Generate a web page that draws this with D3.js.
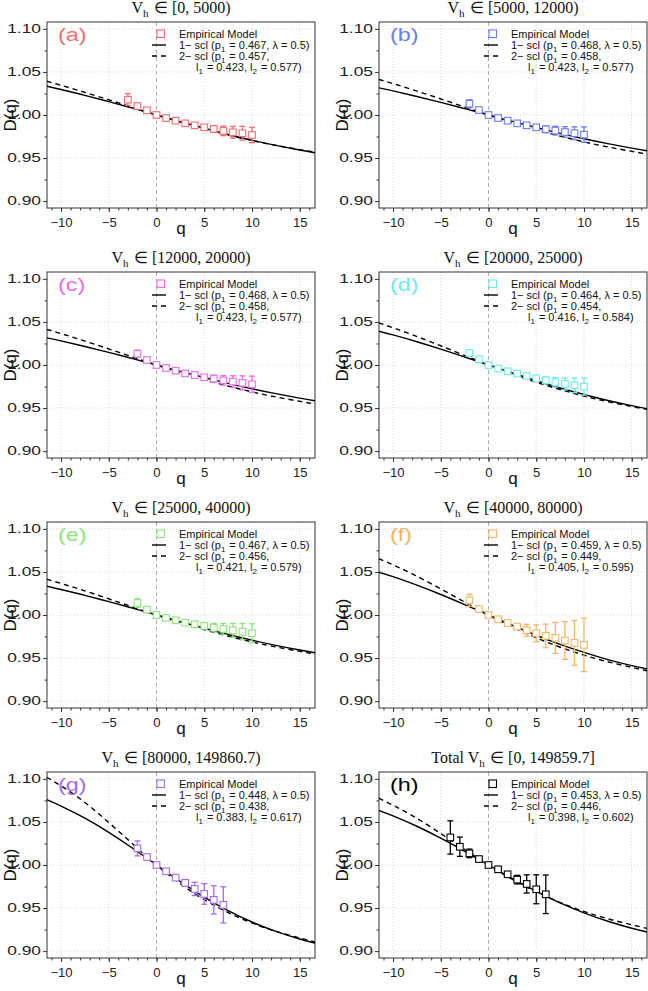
<!DOCTYPE html>
<html><head><meta charset="utf-8">
<script src="https://cdn.jsdelivr.net/npm/d3@7"></script>
<style>body{margin:0;background:#fff}</style>
</head><body><svg id="c" width="648" height="991"></svg>
<script>
// ---------- data ----------
const panelLabels = ["(a)","(b)","(c)","(d)","(e)","(f)","(g)","(h)"];
const panelRanges = ["[0, 5000)","[5000, 12000)","[12000, 20000)","[20000, 25000)","[25000, 40000)","[40000, 80000)","[80000, 149860.7)","[0, 149859.7]"];
const panelPrefix = ["","","","","","","","Total "];
const panelColors = ["#EE6F6F","#6B7CF0","#E86EE8","#6FEAEA","#8EE67A","#F2B666","#A56EEA","#000000"];
const oneP1 = ["0.467","0.468","0.468","0.464","0.467","0.459","0.448","0.453"];
const twoP1 = ["0.457","0.458","0.458","0.454","0.456","0.449","0.438","0.446"];
const twoL1 = ["0.423","0.423","0.423","0.416","0.421","0.405","0.383","0.398"];
const twoL2 = ["0.577","0.577","0.577","0.584","0.579","0.595","0.617","0.602"];

const xTicks = [-10,-5,0,5,10,15];
const yTicks = [0.90,0.95,1.00,1.05,1.10];

// empirical D(q) and error half-widths
const qA = [-3,-2,-1,0,1,2,3,4,5,6,7,8,9,10];
const dA = [1.0178,1.0104,1.0054,1.0000,0.9965,0.9934,0.9903,0.9880,0.9857,0.9838,0.9815,0.9799,0.9788,0.9768];
const eA = [0.0069,0.0020,0.0015,0.0005,0.0010,0.0010,0.0010,0.0015,0.0025,0.0040,0.0055,0.0068,0.0080,0.0090];
const qB = [-2,-1,0,1,2,3,4,5,6,7,8,9,10];
const dB = [1.0131,1.0058,1.0000,0.9965,0.9934,0.9903,0.9880,0.9857,0.9834,0.9819,0.9803,0.9788,0.9772];
const eB = [0.0046,0.0015,0.0005,0.0010,0.0010,0.0010,0.0015,0.0020,0.0039,0.0050,0.0062,0.0075,0.0090];
const qC = [-2,-1,0,1,2,3,4,5,6,7,8,9,10];
const dC = [1.0131,1.0058,1.0000,0.9965,0.9934,0.9903,0.9884,0.9857,0.9842,0.9822,0.9807,0.9792,0.9776];
const eC = [0.0040,0.0015,0.0005,0.0010,0.0010,0.0010,0.0015,0.0020,0.0040,0.0055,0.0068,0.0082,0.0095];
const qD = [-2,-1,0,1,2,3,4,5,6,7,8,9,10];
const dD = [1.0139,1.0066,1.0000,0.9958,0.9927,0.9900,0.9873,0.9846,0.9822,0.9799,0.9780,0.9764,0.9749];
const eD = [0.0040,0.0015,0.0005,0.0010,0.0010,0.0010,0.0015,0.0025,0.0040,0.0055,0.0070,0.0085,0.0100];
const qE = [-2,-1,0,1,2,3,4,5,6,7,8,9,10];
const dE = [1.0139,1.0062,1.0000,0.9965,0.9938,0.9911,0.9892,0.9873,0.9853,0.9838,0.9822,0.9807,0.9788];
const eE = [0.0050,0.0015,0.0005,0.0010,0.0010,0.0010,0.0015,0.0030,0.0050,0.0065,0.0080,0.0095,0.0110];
const qF = [-2,-1,0,1,2,3,4,5,6,7,8,9,10];
const dF = [1.0170,1.0069,1.0000,0.9950,0.9907,0.9865,0.9822,0.9788,0.9757,0.9734,0.9703,0.9676,0.9653];
const eF = [0.0070,0.0015,0.0005,0.0010,0.0020,0.0030,0.0070,0.0097,0.0137,0.0180,0.0220,0.0260,0.0310];
const qG = [-2,-1,0,1,2,3,4,5,6,7];
const dG = [1.0193,1.0093,1.0000,0.9927,0.9853,0.9792,0.9722,0.9664,0.9595,0.9537];
const eG = [0.0087,0.0015,0.0005,0.0010,0.0020,0.0040,0.0077,0.0120,0.0164,0.0210];
const qH = [-4,-3,-2,-1,0,1,2,3,4,5,6];
const dH = [1.0320,1.0212,1.0135,1.0069,1.0000,0.9950,0.9892,0.9830,0.9780,0.9718,0.9660];
const eH = [0.0193,0.0112,0.0050,0.0015,0.0005,0.0010,0.0015,0.0050,0.0106,0.0168,0.0224];

// model curves, sampled values read for each panel
const qOne = [-11.5,-10,-7.5,-5,-2.5,0,2.5,5,7.5,10,12.5,15,16.6];
const oneA = [1.0334,1.0296,1.0228,1.0155,1.0079,1.0000,0.9922,0.9846,0.9774,0.9708,0.9647,0.9593,0.9562];
const oneB = [1.0316,1.0280,1.0215,1.0146,1.0074,1.0000,0.9926,0.9855,0.9787,0.9724,0.9667,0.9615,0.9585];
const oneC = [1.0316,1.0280,1.0215,1.0146,1.0074,1.0000,0.9926,0.9855,0.9787,0.9724,0.9667,0.9615,0.9585];
const oneD = [1.0393,1.0349,1.0270,1.0184,1.0093,1.0000,0.9907,0.9817,0.9733,0.9657,0.9588,0.9528,0.9493];
const oneE = [1.0334,1.0296,1.0228,1.0155,1.0079,1.0000,0.9922,0.9846,0.9774,0.9708,0.9647,0.9593,0.9562];
const oneF = [1.0498,1.0445,1.0347,1.0238,1.0121,1.0000,0.9880,0.9765,0.9659,0.9565,0.9482,0.9412,0.9373];
const oneG = [1.0758,1.0684,1.0544,1.0379,1.0195,1.0000,0.9807,0.9628,0.9470,0.9338,0.9229,0.9141,0.9094];
const oneH = [1.0635,1.0571,1.0450,1.0311,1.0159,1.0000,0.9842,0.9693,0.9560,0.9444,0.9347,0.9266,0.9222];
const qTwo = [-11.5,-8,-4,0,4,8,12,16.6];
const twoA = [1.0392,1.0280,1.0141,1.0000,0.9869,0.9754,0.9658,0.9568];
const twoB = [1.0414,1.0296,1.0149,1.0000,0.9861,0.9741,0.9640,0.9547];
const twoC = [1.0414,1.0296,1.0149,1.0000,0.9861,0.9741,0.9640,0.9547];
const twoD = [1.0490,1.0352,1.0178,1.0000,0.9837,0.9699,0.9586,0.9484];
const twoE = [1.0416,1.0298,1.0150,1.0000,0.9861,0.9741,0.9640,0.9547];
const twoF = [1.0655,1.0478,1.0242,1.0000,0.9783,0.9607,0.9471,0.9353];
const twoG = [1.1019,1.0768,1.0395,1.0000,0.9667,0.9421,0.9247,0.9107];
const twoH = [1.0777,1.0574,1.0292,1.0000,0.9744,0.9542,0.9391,0.9264];

const empQ = [qA,qB,qC,qD,qE,qF,qG,qH];
const empD = [dA,dB,dC,dD,dE,dF,dG,dH];
const empE = [eA,eB,eC,eD,eE,eF,eG,eH];
const oneS = [oneA,oneB,oneC,oneD,oneE,oneF,oneG,oneH];
const twoS = [twoA,twoB,twoC,twoD,twoE,twoF,twoG,twoH];

// ---------- layout ----------
const svg = d3.select("#c");
svg.append("rect").attr("width",648).attr("height",991).attr("fill","#fff");
const colL = [47,379], PW = 268, PH = 186, rowT = [22,272,522,772];
const SANS = "'Liberation Sans', Arial, Helvetica, sans-serif";
const SERIF = "'Liberation Serif', 'Times New Roman', serif";

function richText(g, x, y, parts, size, subSize, family, fill, anchor, stretch){
  const k = stretch || 1;
  const t = g.append("text").attr("transform",`translate(${x},${y}) scale(${k},1)`)
    .attr("font-family",family).attr("font-size",size).attr("fill",fill)
    .attr("text-anchor",anchor||"start");
  parts.forEach(p=>{
    if(p[1]==="sub"){
      t.append("tspan").attr("font-size",subSize).attr("dy",subSize*0.4).text(p[0]);
      t.append("tspan").attr("dy",-subSize*0.4).text("\u200A");
    } else t.append("tspan").text(p[0]);
  });
  return t;
}

for(let i=0;i<8;i++){
  const r = Math.floor(i/2), c = i%2;
  const L = colL[c], T = rowT[r], R = L+PW, B = T+PH;
  const col = panelColors[i];
  const x = d3.scaleLinear().domain([-11.47,16.6]).range([L,R]);
  const y = d3.scaleLinear().domain([0.892,1.108]).range([B,T]);
  const g = svg.append("g");
  const clipId = "clip"+i;
  svg.append("clipPath").attr("id",clipId).append("rect").attr("x",L).attr("y",T).attr("width",PW).attr("height",PH);

  // grid
  g.selectAll(".gx").data(xTicks.filter(d=>d!==0)).join("line")
    .attr("x1",d=>x(d)).attr("x2",d=>x(d)).attr("y1",T).attr("y2",B)
    .attr("stroke","#cfcfcf").attr("stroke-width",0.8).attr("stroke-dasharray","1,2");
  g.selectAll(".gy").data(yTicks).join("line")
    .attr("x1",L).attr("x2",R).attr("y1",d=>y(d)).attr("y2",d=>y(d))
    .attr("stroke","#cfcfcf").attr("stroke-width",0.8).attr("stroke-dasharray","1,2");
  g.append("line").attr("x1",x(0)).attr("x2",x(0)).attr("y1",T).attr("y2",B)
    .attr("stroke","#b0b0b0").attr("stroke-width",1).attr("stroke-dasharray","4,3");

  // axes
  const xa = g.append("g").attr("transform",`translate(0,${B})`)
    .call(d3.axisBottom(x).tickValues(xTicks).tickSize(4).tickPadding(6)
      .tickFormat(d=> d<0 ? "\u2212"+Math.abs(d) : String(d)));
  const xm = g.append("g").attr("transform",`translate(0,${B})`)
    .call(d3.axisBottom(x).tickValues(d3.range(-11,17)).tickSize(2.5).tickFormat(""));
  const ya = g.append("g").attr("transform",`translate(${L},0)`)
    .call(d3.axisLeft(y).tickValues(yTicks).tickSize(4).tickPadding(4).tickFormat(d3.format(".2f")));
  const ym = g.append("g").attr("transform",`translate(${L},0)`)
    .call(d3.axisLeft(y).tickValues([0.925,0.975,1.025,1.075]).tickSize(2.5).tickFormat(""));
  [xa,xm,ya,ym].forEach(a=>{ a.select(".domain").remove(); a.selectAll("line").attr("stroke","#333"); });
  const sx = 1.05, sy = 1.45;
  xa.selectAll("text").attr("font-family",SANS).attr("font-size",12.5).attr("fill","#222")
    .attr("transform",`scale(${sx},1)`);
  ya.selectAll("text").attr("font-family",SANS).attr("font-size",12).attr("fill","#222")
    .attr("x",-6/sy).attr("transform",`scale(${sy},1)`);

  // box
  g.append("rect").attr("x",L).attr("y",T).attr("width",PW).attr("height",PH)
    .attr("fill","none").attr("stroke","#333").attr("stroke-width",1);

  // model curves
  const line = d3.line().x(d=>x(d[0])).y(d=>y(d[1])).curve(d3.curveNatural);
  const cg = g.append("g").attr("clip-path",`url(#${clipId})`);
  cg.append("path").attr("d",line(qOne.map((q,k)=>[q,oneS[i][k]])))
    .attr("fill","none").attr("stroke","#000").attr("stroke-width",1.4);
  cg.append("path").attr("d",line(qTwo.map((q,k)=>[q,twoS[i][k]])))
    .attr("fill","none").attr("stroke","#000").attr("stroke-width",1.4).attr("stroke-dasharray","5,4");

  // empirical points with error bars
  const pts = empQ[i].map((q,k)=>({q, d:empD[i][k], e:empE[i][k]}));
  const eg = g.append("g").attr("stroke",col).attr("stroke-width",1.3);
  pts.forEach(p=>{
    eg.append("line").attr("x1",x(p.q)).attr("x2",x(p.q)).attr("y1",y(p.d-p.e)).attr("y2",y(p.d+p.e));
    eg.append("line").attr("x1",x(p.q)-3).attr("x2",x(p.q)+3).attr("y1",y(p.d-p.e)).attr("y2",y(p.d-p.e));
    eg.append("line").attr("x1",x(p.q)-3).attr("x2",x(p.q)+3).attr("y1",y(p.d+p.e)).attr("y2",y(p.d+p.e));
  });
  g.selectAll(".sq").data(pts).join("rect")
    .attr("x",d=>x(d.q)-3.3).attr("y",d=>y(d.d)-3.3).attr("width",6.6).attr("height",6.6)
    .attr("fill","#fff").attr("stroke",col).attr("stroke-width",1.1);

  // panel label
  richText(g, L+11, T+19, [[panelLabels[i],""]], 18, 12, SANS, col, "start", 1.3);

  // legend
  const lx = R-136;
  g.append("rect").attr("x",R-158).attr("y",T+8).attr("width",7.5).attr("height",7.5)
    .attr("fill","none").attr("stroke",col).attr("stroke-width",1.1);
  richText(g, lx, T+16, [["Empirical Model",""]], 11, 8, SANS, "#111");
  g.append("line").attr("x1",R-163).attr("x2",R-149).attr("y1",T+23).attr("y2",T+23)
    .attr("stroke","#000").attr("stroke-width",1.4);
  richText(g, lx, T+27, [["1\u2212 scl (p",""],["1","sub"],[" = "+oneP1[i]+", \u03BB = 0.5)",""]], 11, 8, SANS, "#111");
  g.append("line").attr("x1",R-163).attr("x2",R-149).attr("y1",T+34).attr("y2",T+34)
    .attr("stroke","#000").attr("stroke-width",1.4).attr("stroke-dasharray","5,4");
  richText(g, lx, T+38, [["2\u2212 scl (p",""],["1","sub"],[" = "+twoP1[i]+",",""]], 11, 8, SANS, "#111");
  richText(g, R-119, T+49, [["l",""],["1","sub"],[" = "+twoL1[i]+", l",""],["2","sub"],[" = "+twoL2[i]+")",""]], 11, 8, SANS, "#111");

  // title
  richText(g, (L+R)/2, T-9, [[panelPrefix[i]+"V",""],["h","sub"],[" \u2208 "+panelRanges[i],""]], 16, 11, SERIF, "#111", "middle");

  // axis labels
  richText(g, (L+R)/2, B+26, [["q",""]], 17, 12, SANS, "#111", "middle");
  g.append("text").attr("transform",`translate(${L-31},${(T+B)/2}) rotate(-90)`).attr("text-anchor","middle")
    .attr("font-family",SANS).attr("font-size",17).attr("fill","#111").text("D(q)");
}
</script></body></html>
